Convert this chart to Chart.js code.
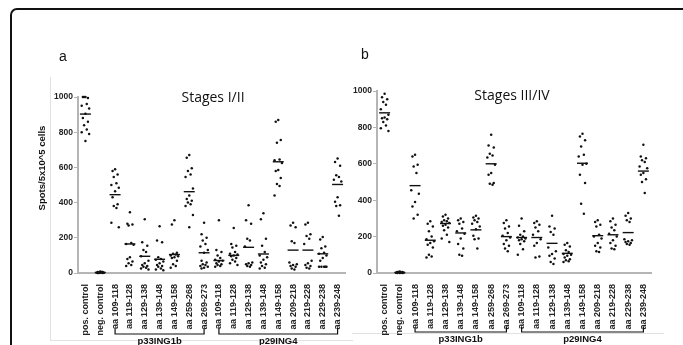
<!DOCTYPE html>
<html>
<head>
<meta charset="utf-8">
<script src="https://cdn.jsdelivr.net/npm/chart.js@4.4.1/dist/chart.umd.min.js"></script>
<style>
  body { margin: 0; background: #fff; }
  #wrap { position: relative; width: 683px; height: 345px; overflow: hidden; }
  #frame { position: absolute; left: 10px; top: 8px; width: 690px; height: 400px; border: 2px solid #111; border-radius: 7px; }
  .faint { position: absolute; background: #e2e2e2; }
  canvas { position: absolute; top: 0; }
</style>
</head>
<body>
<div id="wrap">
  <div id="frame"></div>
  <div class="faint" style="left:50px;top:77px;width:1px;height:263px"></div>
  <div class="faint" style="left:50px;top:340px;width:303px;height:1px"></div>
  <div class="faint" style="left:352px;top:333px;width:312px;height:1px"></div>
  <canvas id="chartA" width="352" height="345" style="left:0"></canvas>
  <canvas id="chartB" width="338" height="345" style="left:345px"></canvas>
</div>
<script>
const xLabels = ["pos. control", "neg. control",
  "aa 109-118", "aa 119-128", "aa 129-138", "aa 139-148", "aa 149-158", "aa 259-268", "aa 269-273",
  "aa 109-118", "aa 119-128", "aa 129-138", "aa 139-148", "aa 149-158", "aa 209-218", "aa 219-228", "aa 229-238", "aa 239-248"];
const yTicks = [0, 200, 400, 600, 800, 1000];
// bracket groups: [label, first index, last index]
const groups = [["p33ING1b", 2, 8], ["p29ING4", 9, 17]];

// Stages I/II, spots per 5x10^5 cells for each peptide
const stagesI = [
  [1000, 1000, 995, 1000, 960, 950, 935, 905, 880, 860, 840, 815, 800, 790, 750],
  [8, 6, 5, 4, 3, 2, 2, 1, 0, 0, 0, 5],
  [590, 580, 560, 545, 510, 500, 485, 465, 430, 390, 380, 370, 285, 260],
  [345, 280, 275, 270, 170, 165, 160, 90, 80, 65, 55, 45, 40],
  [305, 175, 155, 130, 120, 95, 70, 55, 45, 40, 35, 30, 25, 20],
  [265, 185, 175, 90, 80, 75, 65, 55, 45, 40, 35, 25, 20, 15],
  [300, 275, 115, 110, 105, 100, 95, 90, 85, 70, 50, 40, 30],
  [670, 655, 595, 580, 560, 545, 480, 440, 420, 410, 400, 390, 380, 330, 260],
  [285, 220, 200, 185, 165, 150, 130, 115, 70, 60, 50, 45, 40, 35, 30, 25],
  [300, 130, 120, 100, 85, 75, 70, 65, 55, 50, 45, 40, 35],
  [255, 165, 155, 145, 120, 110, 105, 100, 95, 85, 75, 65, 55, 45],
  [385, 300, 280, 195, 185, 150, 60, 55, 50, 45, 40, 35],
  [340, 305, 195, 155, 120, 100, 90, 75, 60, 50, 40, 30, 25],
  [870, 860, 755, 740, 645, 640, 625, 585, 580, 540, 505, 495, 440],
  [285, 270, 260, 180, 170, 60, 50, 45, 40, 35, 25, 20],
  [285, 275, 220, 210, 195, 165, 70, 55, 45, 40, 30, 25],
  [205, 190, 150, 140, 115, 110, 100, 85, 70, 35, 35, 35, 35, 35],
  [650, 630, 610, 555, 545, 530, 520, 430, 405, 385, 380, 325]
];
const mediansI = [903, 3, 445, 165, 95, 78, 105, 462, 115, 71, 100, 146, 108, 632, 130, 130, 109, 503];

// Stages III/IV
const stagesIII = [
  [985, 965, 955, 940, 925, 900, 870, 855, 850, 845, 830, 810, 795, 780],
  [8, 6, 5, 4, 3, 2, 1, 0, 0, 0, 5, 2],
  [650, 640, 595, 585, 550, 455, 435, 390, 365, 320, 300],
  [285, 270, 255, 230, 200, 185, 175, 165, 155, 140, 100, 90, 85],
  [320, 310, 300, 290, 285, 280, 275, 265, 260, 250, 235, 210, 190, 170],
  [300, 290, 280, 270, 245, 230, 215, 190, 160, 135, 100, 95],
  [315, 305, 300, 290, 280, 270, 255, 240, 205, 190, 185, 135],
  [760, 700, 690, 655, 645, 635, 595, 550, 540, 495, 490, 485],
  [290, 275, 255, 245, 220, 205, 195, 180, 160, 150, 135, 120],
  [300, 260, 230, 210, 200, 195, 190, 185, 180, 175, 160, 130, 100],
  [285, 275, 265, 250, 230, 210, 185, 165, 150, 90, 85],
  [315, 255, 245, 225, 210, 140, 120, 105, 95, 80, 60, 50],
  [165, 155, 145, 125, 115, 105, 100, 95, 85, 75, 70, 65, 60],
  [765, 750, 730, 695, 650, 640, 600, 595, 540, 495, 380, 325],
  [290, 280, 265, 255, 210, 200, 190, 165, 150, 140, 120, 115],
  [300, 285, 265, 250, 235, 215, 200, 180, 165, 150, 135, 130],
  [330, 315, 300, 290, 280, 185, 180, 175, 170, 165, 160, 155],
  [705, 640, 630, 620, 610, 585, 575, 550, 540, 515, 500, 440]
];
const mediansIII = [880, 3, 480, 180, 272, 220, 237, 600, 200, 195, 195, 163, 108, 603, 205, 210, 222, 560];

const spread = [0, -0.17, 0.17, -0.09, 0.09, -0.25, 0.25];

function toPoints(series) {
  const pts = [];
  series.forEach((vals, i) => {
    vals.forEach((v, j) => pts.push({ x: i + spread[j % spread.length], y: v }));
  });
  return pts;
}

const annotate = {
  id: "annotate",
  afterDraw(chart) {
    const o = chart.options.plugins.annotate;
    const ctx = chart.ctx;
    const x = chart.scales.x;
    ctx.save();
    ctx.fillStyle = "#111";
    ctx.textAlign = "center";
    ctx.textBaseline = "middle";
    ctx.font = "14px 'Liberation Sans'";
    ctx.fillText(o.letter, o.letterX, o.letterY);
    ctx.font = "14px 'Open Sans'";
    ctx.fillText(o.title, o.titleX, o.titleY);
    if (o.yTitle) {
      ctx.save();
      ctx.translate(o.yTitleX, o.yTitleY);
      ctx.rotate(-Math.PI / 2);
      ctx.font = "bold 9.5px 'Liberation Sans'";
      ctx.fillText(o.yTitle, 0, 0);
      ctx.restore();
    }
    // brackets under the peptide labels
    ctx.strokeStyle = "#111";
    ctx.lineWidth = 1.2;
    ctx.font = "bold 9.5px 'Liberation Sans'";
    ctx.textBaseline = "top";
    groups.forEach(([name, a, b]) => {
      const x1 = x.getPixelForValue(a);
      const x2 = x.getPixelForValue(b);
      ctx.beginPath();
      ctx.moveTo(x1, o.bracketTop);
      ctx.lineTo(x1, o.bracketY);
      ctx.lineTo(x2, o.bracketY);
      ctx.lineTo(x2, o.bracketTop);
      ctx.stroke();
      ctx.fillText(name, (x1 + x2) / 2, o.bracketY + 3);
    });
    ctx.restore();
  }
};

function makePanel(id, series, medians, pad, yWidth, o) {
  return new Chart(document.getElementById(id), {
    type: "scatter",
    data: {
      datasets: [
        {
          data: toPoints(series),
          backgroundColor: "#111",
          borderColor: "#111",
          pointRadius: 1.25,
          borderWidth: 0,
          clip: false
        },
        {
          data: medians.map((m, i) => ({ x: i, y: m })),
          pointStyle: "line",
          pointRadius: 5.5,
          borderColor: "#111",
          borderWidth: 1.4,
          clip: false
        }
      ]
    },
    options: {
      responsive: false,
      animation: false,
      events: [],
      layout: { padding: pad },
      plugins: { legend: { display: false }, tooltip: { enabled: false }, annotate: o },
      scales: {
        x: {
          type: "linear",
          min: -0.5,
          max: xLabels.length - 0.5,
          afterBuildTicks: (s) => { s.ticks = xLabels.map((_, i) => ({ value: i })); },
          afterFit: (s) => { s.height = 72; },
          grid: { display: false },
          border: { display: true, color: "#b5b5b5", width: 2 },
          ticks: {
            autoSkip: false,
            minRotation: 90,
            maxRotation: 90,
            padding: 3,
            color: "#222",
            font: { family: "'Liberation Sans'", size: 9, weight: "bold" },
            callback: (v) => xLabels[v]
          }
        },
        y: {
          min: 0,
          max: 1000,
          afterBuildTicks: (s) => { s.ticks = yTicks.map((v) => ({ value: v })); },
          afterFit: (s) => { s.width = yWidth; },
          grid: { drawOnChartArea: false, drawTicks: true, tickLength: 4, color: "#b5b5b5", lineWidth: 1 },
          border: { display: true, color: "#b5b5b5", width: 2 },
          ticks: {
            padding: 1,
            color: "#222",
            font: { family: "'Liberation Sans'", size: 8.5, weight: "bold" },
            callback: (v) => String(v)
          }
        }
      }
    },
    plugins: [annotate]
  });
}

makePanel("chartA", stagesI, mediansI, { left: 0, right: 7, top: 97, bottom: 0 }, 78, {
  letter: "a", letterX: 63, letterY: 57,
  title: "Stages I/II", titleX: 213, titleY: 98,
  yTitle: "Spots/5x10^5 cells", yTitleX: 42, yTitleY: 168,
  bracketTop: 328, bracketY: 334
});
makePanel("chartB", stagesIII, mediansIII, { left: 0, right: 32, top: 91, bottom: 0 }, 32, {
  letter: "b", letterX: 20, letterY: 55,
  title: "Stages III/IV", titleX: 167, titleY: 96,
  bracketTop: 327, bracketY: 332
});
</script>
</body>
</html>
